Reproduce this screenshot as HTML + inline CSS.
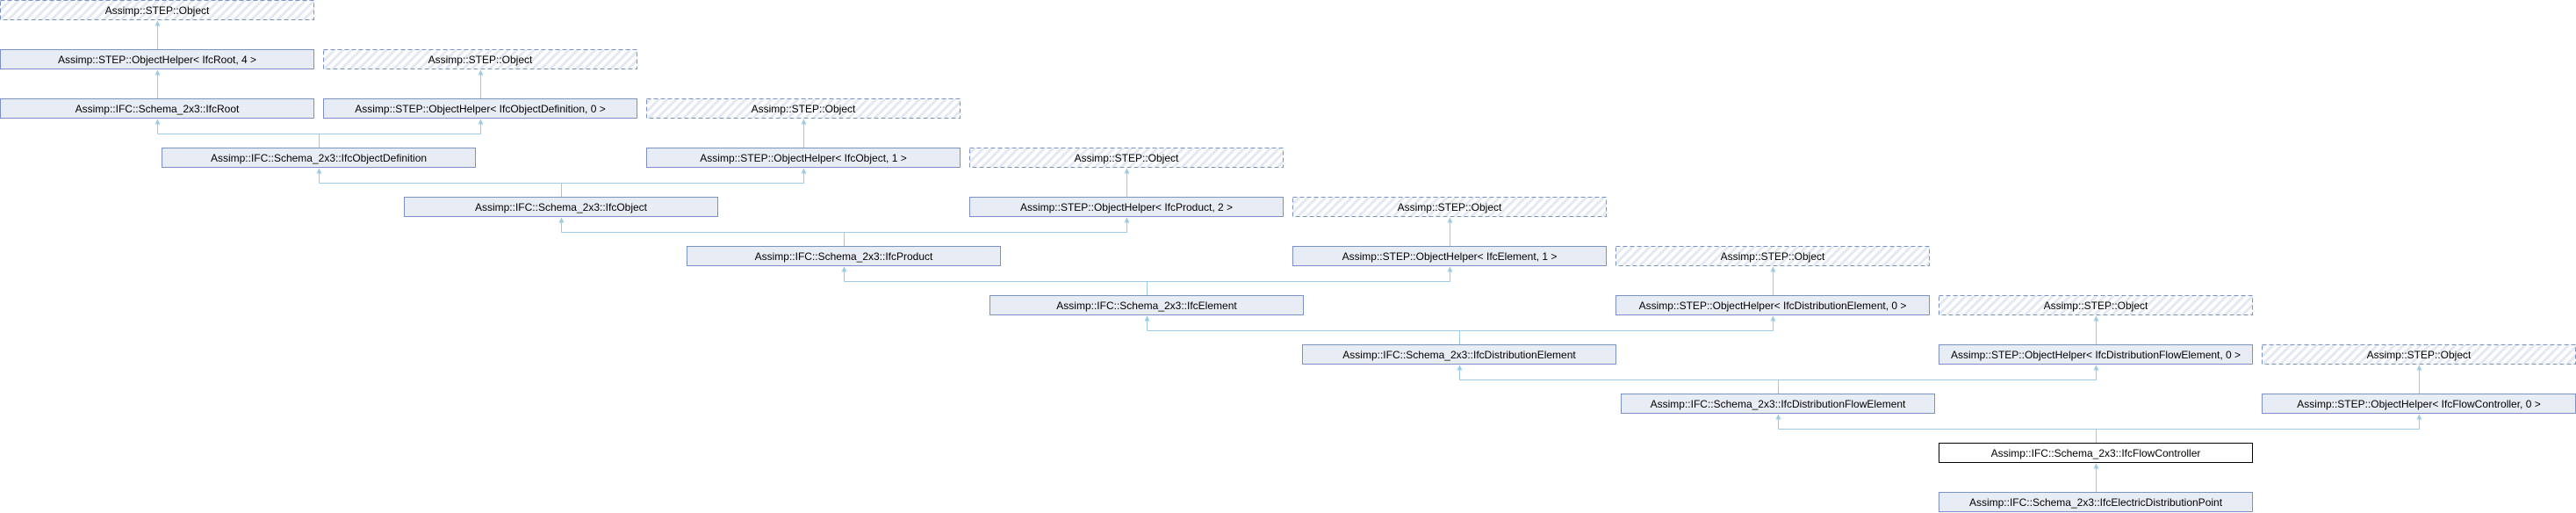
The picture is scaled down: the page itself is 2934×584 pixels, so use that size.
<!DOCTYPE html>
<html><head><meta charset="utf-8"><style>
html,body{margin:0;padding:0;background:#fff;}
svg{display:block;}
text{font-family:"Liberation Sans",Arial,sans-serif;font-size:12px;text-anchor:middle;fill:#000;}
.n{fill:#e8ecf4;stroke:#7b92c6;stroke-width:1;}
.o{fill:url(#h);stroke:#7b92c6;stroke-width:1;stroke-dasharray:5,3;}
.w{fill:#fff;stroke:#000;stroke-width:1;}
.l{fill:none;stroke:#9ccbe6;stroke-width:1;}
.a{fill:#9ccbe6;}
</style></head><body>
<svg width="2934" height="584" viewBox="0 0 2934 584" xmlns="http://www.w3.org/2000/svg">
<defs>
<pattern id="h" patternUnits="userSpaceOnUse" width="7" height="7" patternTransform="rotate(45)">
<rect width="7" height="7" fill="#fff"/><rect width="3" height="7" fill="#e3e8f2"/>
</pattern>
</defs>
<!-- connectors -->
<g>
<path class="l" d="M179.5 56V24"/>
<path class="l" d="M179.5 112V80"/>
<path class="l" d="M547.5 112V80"/>
<path class="l" d="M363.5 168V152.5M179.5 152.5H547.5M179.5 152.5V136M547.5 152.5V136"/>
<path class="l" d="M915.5 168V136"/>
<path class="l" d="M639.5 224V208.5M363.5 208.5H915.5M363.5 208.5V192M915.5 208.5V192"/>
<path class="l" d="M1283.5 224V192"/>
<path class="l" d="M961.5 280V264.5M639.5 264.5H1283.5M639.5 264.5V248M1283.5 264.5V248"/>
<path class="l" d="M1651.5 280V248"/>
<path class="l" d="M1306.5 336V320.5M961.5 320.5H1651.5M961.5 320.5V304M1651.5 320.5V304"/>
<path class="l" d="M2019.5 336V304"/>
<path class="l" d="M1662.5 392V376.5M1306.5 376.5H2019.5M1306.5 376.5V360M2019.5 376.5V360"/>
<path class="l" d="M2387.5 392V360"/>
<path class="l" d="M2025.5 448V432.5M1662.5 432.5H2387.5M1662.5 432.5V416M2387.5 432.5V416"/>
<path class="l" d="M2755.5 448V416"/>
<path class="l" d="M2387.5 504V488.5M2025.5 488.5H2755.5M2025.5 488.5V472M2755.5 488.5V472"/>
<path class="l" d="M2387.5 560V528"/>
</g>
<g class="a">
<path d="M179.5 23.5l-3 6h6z"/>
<path d="M179.5 79.5l-3 6h6z"/>
<path d="M547.5 79.5l-3 6h6z"/>
<path d="M179.5 135.5l-3 6h6z"/>
<path d="M547.5 135.5l-3 6h6z"/>
<path d="M915.5 135.5l-3 6h6z"/>
<path d="M363.5 191.5l-3 6h6z"/>
<path d="M915.5 191.5l-3 6h6z"/>
<path d="M1283.5 191.5l-3 6h6z"/>
<path d="M639.5 247.5l-3 6h6z"/>
<path d="M1283.5 247.5l-3 6h6z"/>
<path d="M1651.5 247.5l-3 6h6z"/>
<path d="M961.5 303.5l-3 6h6z"/>
<path d="M1651.5 303.5l-3 6h6z"/>
<path d="M2019.5 303.5l-3 6h6z"/>
<path d="M1306.5 359.5l-3 6h6z"/>
<path d="M2019.5 359.5l-3 6h6z"/>
<path d="M2387.5 359.5l-3 6h6z"/>
<path d="M1662.5 415.5l-3 6h6z"/>
<path d="M2387.5 415.5l-3 6h6z"/>
<path d="M2755.5 415.5l-3 6h6z"/>
<path d="M2025.5 471.5l-3 6h6z"/>
<path d="M2755.5 471.5l-3 6h6z"/>
<path d="M2387.5 527.5l-3 6h6z"/>
</g>
<!-- boxes -->
<rect class="o" x="0.5" y="0.5" width="357" height="22"/><text x="179" y="16">Assimp::STEP::Object</text>
<rect class="n" x="0.5" y="56.5" width="357" height="22"/><text x="179" y="72">Assimp::STEP::ObjectHelper&lt; IfcRoot, 4 &gt;</text>
<rect class="o" x="368.5" y="56.5" width="357" height="22"/><text x="547" y="72">Assimp::STEP::Object</text>
<rect class="n" x="0.5" y="112.5" width="357" height="22"/><text x="179" y="128">Assimp::IFC::Schema_2x3::IfcRoot</text>
<rect class="n" x="368.5" y="112.5" width="357" height="22"/><text x="547" y="128">Assimp::STEP::ObjectHelper&lt; IfcObjectDefinition, 0 &gt;</text>
<rect class="o" x="736.5" y="112.5" width="357" height="22"/><text x="915" y="128">Assimp::STEP::Object</text>
<rect class="n" x="184.5" y="168.5" width="357" height="22"/><text x="363" y="184">Assimp::IFC::Schema_2x3::IfcObjectDefinition</text>
<rect class="n" x="736.5" y="168.5" width="357" height="22"/><text x="915" y="184">Assimp::STEP::ObjectHelper&lt; IfcObject, 1 &gt;</text>
<rect class="o" x="1104.5" y="168.5" width="357" height="22"/><text x="1283" y="184">Assimp::STEP::Object</text>
<rect class="n" x="460.5" y="224.5" width="357" height="22"/><text x="639" y="240">Assimp::IFC::Schema_2x3::IfcObject</text>
<rect class="n" x="1104.5" y="224.5" width="357" height="22"/><text x="1283" y="240">Assimp::STEP::ObjectHelper&lt; IfcProduct, 2 &gt;</text>
<rect class="o" x="1472.5" y="224.5" width="357" height="22"/><text x="1651" y="240">Assimp::STEP::Object</text>
<rect class="n" x="782.5" y="280.5" width="357" height="22"/><text x="961" y="296">Assimp::IFC::Schema_2x3::IfcProduct</text>
<rect class="n" x="1472.5" y="280.5" width="357" height="22"/><text x="1651" y="296">Assimp::STEP::ObjectHelper&lt; IfcElement, 1 &gt;</text>
<rect class="o" x="1840.5" y="280.5" width="357" height="22"/><text x="2019" y="296">Assimp::STEP::Object</text>
<rect class="n" x="1127.5" y="336.5" width="357" height="22"/><text x="1306" y="352">Assimp::IFC::Schema_2x3::IfcElement</text>
<rect class="n" x="1840.5" y="336.5" width="357" height="22"/><text x="2019" y="352">Assimp::STEP::ObjectHelper&lt; IfcDistributionElement, 0 &gt;</text>
<rect class="o" x="2208.5" y="336.5" width="357" height="22"/><text x="2387" y="352">Assimp::STEP::Object</text>
<rect class="n" x="1483.5" y="392.5" width="357" height="22"/><text x="1662" y="408">Assimp::IFC::Schema_2x3::IfcDistributionElement</text>
<rect class="n" x="2208.5" y="392.5" width="357" height="22"/><text x="2387" y="408">Assimp::STEP::ObjectHelper&lt; IfcDistributionFlowElement, 0 &gt;</text>
<rect class="o" x="2576.5" y="392.5" width="357" height="22"/><text x="2755" y="408">Assimp::STEP::Object</text>
<rect class="n" x="1846.5" y="448.5" width="357" height="22"/><text x="2025" y="464">Assimp::IFC::Schema_2x3::IfcDistributionFlowElement</text>
<rect class="n" x="2576.5" y="448.5" width="357" height="22"/><text x="2755" y="464">Assimp::STEP::ObjectHelper&lt; IfcFlowController, 0 &gt;</text>
<rect class="w" x="2208.5" y="504.5" width="357" height="22"/><text x="2387" y="520">Assimp::IFC::Schema_2x3::IfcFlowController</text>
<rect class="n" x="2208.5" y="560.5" width="357" height="22"/><text x="2387" y="576">Assimp::IFC::Schema_2x3::IfcElectricDistributionPoint</text>
</svg>
</body></html>
